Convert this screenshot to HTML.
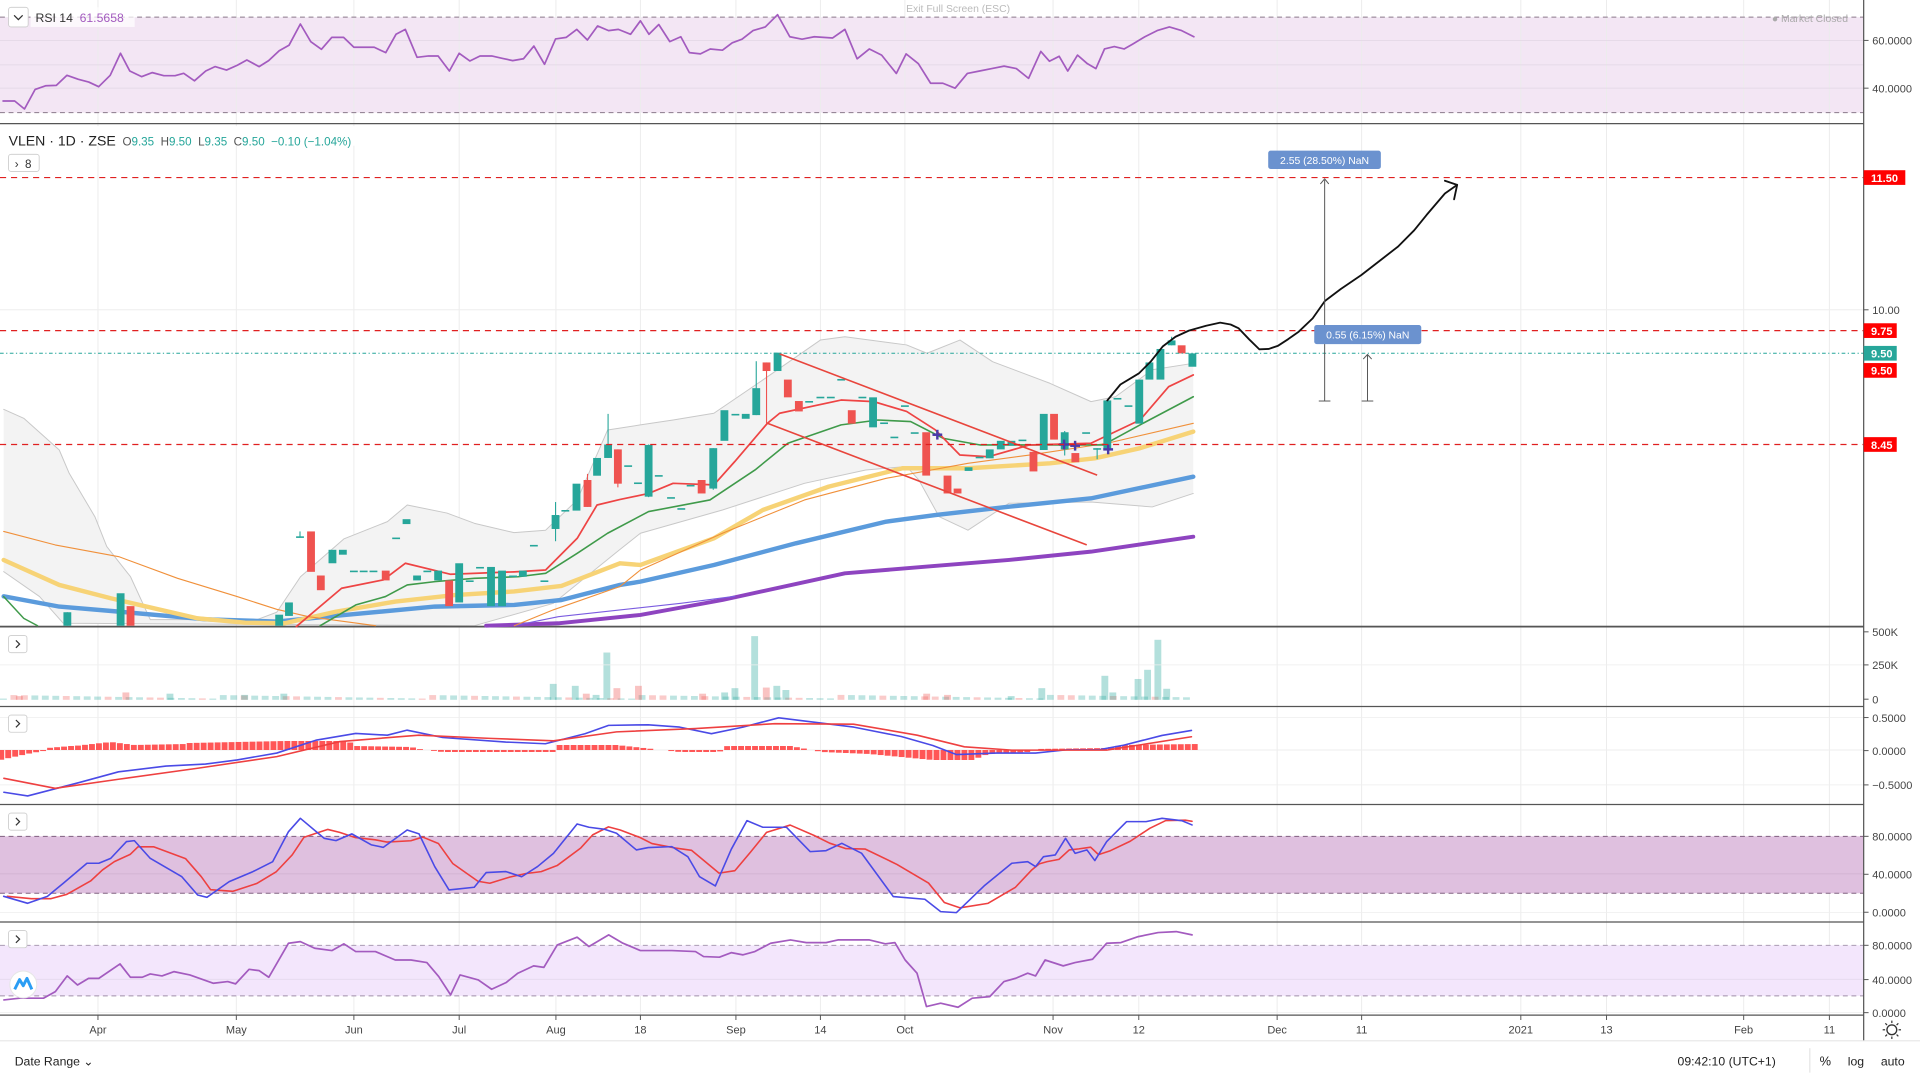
<!DOCTYPE html>
<html><head><meta charset="utf-8"><style>
html,body{margin:0;padding:0;background:#fff;overflow:hidden}
svg{display:block}
text{font-family:"Liberation Sans",sans-serif}
</style></head><body>
<svg id="s" width="1920" height="1080" viewBox="0 0 1568 882" preserveAspectRatio="none" xmlns="http://www.w3.org/2000/svg"></svg>
<script>
var o=[];
function P(a){return a.map(function(p){return p[0]+','+p[1]}).join(' ')}
function line(pts,c,w,extra){o.push('<polyline fill="none" stroke="'+c+'" stroke-width="'+w+'" stroke-linejoin="round" stroke-linecap="round" points="'+P(pts)+'" '+(extra||'')+'/>')}
function rect(x,y,w,h,f,extra){o.push('<rect x="'+x+'" y="'+y+'" width="'+w+'" height="'+h+'" fill="'+f+'" '+(extra||'')+'/>')}
function L(x1,y1,x2,y2,c,w,extra){o.push('<line x1="'+x1+'" y1="'+y1+'" x2="'+x2+'" y2="'+y2+'" stroke="'+c+'" stroke-width="'+w+'" '+(extra||'')+'/>')}
function T(x,y,s,sz,c,extra){o.push('<text x="'+x+'" y="'+y+'" font-size="'+sz+'" fill="'+c+'" '+(extra||'')+'>'+s+'</text>')}
var AX=1522;
// grid verticals
var dates=[[80,'Apr'],[193,'May'],[289,'Jun'],[375,'Jul'],[454,'Aug'],[523,'18'],[601,'Sep'],[670,'14'],[739,'Oct'],[860,'Nov'],[930,'12'],[1043,'Dec'],[1112,'11'],[1242,'2021'],[1312,'13'],[1424,'Feb'],[1494,'11']];
// RSI pane
rect(0,14,AX,78,'#f3e6f4');
dates.forEach(function(d){L(d[0],0,d[0],829,'#ececec',0.8)});
[33,53,72].forEach(function(y){L(0,y,AX,y,'#e2d6e4',0.6)});
L(0,14,AX,14,'#8a7a8a',0.8,'stroke-dasharray="4,3"');L(0,92,AX,92,'#8a7a8a',0.8,'stroke-dasharray="4,3"');
var rsi=[[2.5,82.5],[12,82.5],[20,89],[28.7,73],[37.5,70],[46,69.7],[54.7,61.5],[64,64.8],[72.5,67],[80.6,70.8],[90,61.5],[98.4,43.5],[106,58],[115.6,62.6],[124.4,59.3],[133.8,61.8],[143,61.8],[150,59.9],[158.8,66],[168,58],[175.6,54.4],[185,57.2],[193.8,53.3],[201.6,49],[211.6,54.4],[219.4,49.5],[228,41.4],[236,37],[245.3,19.6],[253.8,34],[262.5,40.3],[271,30.5],[280.6,30.5],[289,38.6],[305.6,38.6],[315,43],[323.4,28],[331,24],[340.6,46.8],[350,45.7],[357.8,45.7],[367,58],[375,43.5],[383.7,49.8],[392,45.7],[401.6,45.7],[410,47.6],[418.7,49.5],[427.5,48],[436,37.6],[444.7,52.5],[453.7,31.8],[462.5,30.5],[471,24],[479.7,32.7],[488,21.2],[497,25],[505,24],[515,28],[523,17],[530,28],[538,20],[547,34],[556,30],[563,43],[572,44],[580,40],[590,41],[598,35],[606,32],[615,25],[625,22],[635,12],[645,30],[655,32],[665,30],[680,31],[690,24],[700,48],[710,40],[720,45],[732,60],[740,44],[750,52],[760,68],[770,68],[780,72],[790,60],[800,58],[810,56],[820,54],[830,56],[840,64],[850,42],[857,50],[865,46],[872,58],[880,45],[888,52],[895,56],[902,40],[910,38],[918,40],[925,36],[935,30],[945,25],[955,22],[965,25],[975,30]];
line(rsi,'#a35bbf',1.4);
rect(7,6,16,16,'#fff','stroke="#ccc" stroke-width="0.7" rx="2"');
o.push('<polyline points="11.5,12.5 15,16 18.5,12.5" fill="none" stroke="#333" stroke-width="1"/>');
rect(25,6,85,16,'rgba(255,255,255,0.7)');
T(29,18,'RSI 14','10','#333');T(65,18,'61.5658','10','#a35bbf');
T(740,10,'Exit Full Screen (ESC)','8.5','#bbb');
T(1447,18,'● Market Closed','8.5','#aaa');
// separators
[101,512,577,657,753].forEach(function(y){L(0,y,1568,y,'#555',1)});
L(0,829,AX,829,'#555',1);
// main pane
L(0,253,AX,253,'#eee',0.8);
// bollinger band
var bu=[[3,334.3],[19.4,341.6],[48.4,367.5],[56.5,386.5],[77.5,422],[87.2,446.4],[106.6,471],[122.7,506],[210,506],[226,500],[245.4,471],[281,440],[316.4,426],[332.6,412.4],[365,419],[387.5,427.4],[419.8,435],[445.6,433],[471.4,408.3],[496.2,351.2],[523,347],[549.7,343],[583,337.5],[623,310.3],[670,277.7],[690,275],[740.4,281.7],[757,288.5],[784,277.7],[810.6,295.4],[857.4,313],[891,328],[911,324],[941,302],[974.5,296.7]];
var bl=[[3,466.8],[32.3,487.2],[51.7,509],[387.5,511],[452,492.7],[506,449],[523,435.5],[590,416.5],[657,394.7],[707,383.8],[740.4,381],[750.4,392],[767,422],[790.5,433],[824,411],[891,410],[941,414],[974.5,403]];
o.push('<polygon fill="#f3f3f3" points="'+P(bu)+' '+P(bl.slice().reverse())+'"/>');
line(bu,'#c8c8c8',0.8);line(bl,'#c8c8c8',0.8);
o.push('<rect x="0" y="511" width="1568" height="1" fill="#555"/>');
// MAs
line([[397,511],[456,509],[523,502.2],[590,490],[690,468.2],[757,462.7],[824,457.3],[891,450.5],[974.5,438.3]],'#8e44c0',3.2);
line([[420,511],[456,503.6],[556,492.7],[600,487]],'#7b5ce0',0.9);
line([[3,487],[48.4,495.4],[97,499.5],[168,505.8],[226,507.6],[284,502],[355,495.4],[420,494],[458.5,490],[506.3,477.7],[523,475],[583,461.4],[650,443.7],[723.7,426],[763.8,420.6],[824,413.8],[891,407],[974.5,389.3]],'#5b9bdc',3.6);
line([[3,457.3],[48.4,477.7],[90.4,488.6],[161.4,505],[200.2,508.5],[232.5,509],[274.5,499.5],[323,491.3],[371.3,486],[419.8,483],[458.5,478.5],[506.3,460],[523,461.4],[583,439.6],[623,416.5],[676.8,397.4],[737,382.4],[790.5,382.4],[857.4,378.4],[894,374.3],[931,366],[974.5,352.5]],'#f7d376',3.6);
line([[3,434],[45,445],[97,454.6],[145,472.3],[193.7,487.2],[226,497.6],[252,503.6],[306.7,511]],'#f0903a',0.9);
line([[420,511],[452,498],[506.3,479],[523,465.5],[590,435.5],[657,408.3],[723.7,390.6],[790.5,378.4],[840.7,371.6],[904.3,362],[974.5,345.7]],'#f0903a',0.9);
line([[3,487.2],[19.4,505],[30.7,511]],'#3f9a4a',1.2);
line([[261.5,511],[290.6,494],[314.8,487.2],[332.6,477.7],[355.2,475],[387.5,472.3],[423,471],[445.6,468.2],[471.4,451.9],[496.2,435.5],[529.7,417.8],[579.8,408.3],[616.6,383.8],[643.4,362],[686.9,347],[717,343],[743.7,344.3],[770.5,358],[800.6,363.4],[857.4,363.4],[901,363.4],[931,347],[974.5,324]],'#3f9a4a',1.3);
line([[242,511.7],[279,480.4],[313,473.6],[331,460],[368,469],[420,467],[445.6,465.5],[471.4,439.6],[487.6,412.4],[506,408],[529.7,403],[549.7,394.7],[583,396],[600,377],[626.7,345.7],[636.7,337.5],[686.9,326.7],[713.6,328],[740.4,336],[763.8,351],[783.9,371.6],[807.3,373],[840.7,363.4],[890.9,362],[931,343],[954.4,315.8],[974.5,306.2]],'#ee4444',1.4);
// candles
var G='#26a69a',R='#ef5350';
var c=[[98.5,484.5,511,G],[106.6,495,511,R],[55,500,511,G,500,511],[228,502,511,G],[236,492,503,G],[245,438,439,G,434,439],[254,434,467,R],[262,470,482,R],[271.5,449,460,G],[280,449,453,G],[289,466,467,G],[297,466,467,G],[305,466,467,G],[315,466,474,R],[323.5,439,440,G],[332,424,428,G],[340.6,470,474,G],[349,466,467,G],[357.8,466,474,G],[366.8,474,495,R],[375,460,492,G],[383.6,474,475,G],[392,463,464,G],[401,463,495,G],[410,466,495,G],[419,470,471,G],[427,466,471,G],[436,445,446,G],[444.6,474,475,G],[453.7,420.6,432,G,410,442],[461.7,416.5,417.5,G],[470.8,395,417,G],[479.8,392,414,R,387,414],[487.6,374,388.5,G],[496.6,363,374,G,338,374],[504.6,367,395,R,367,398],[513,380,381,G],[521,394,395,G],[529.7,363.4,405.6,G,363,406],[538,388,389,G],[548,406,407,G],[556.4,415,416,G],[564,396,397,G],[573,392,403,R],[582.5,366,399,G,366,400],[591.6,335,360,G],[600.6,338,339,G],[609,338,342,G],[617.6,317,339,G,295,339],[626,296,303,R,296,346],[635,288,303,G],[643.4,310,324.5,R],[652.4,327.5,336,R],[660.8,327.5,328.5,G],[670,324,325,G],[678.5,324,325,G],[687,309.5,310.5,G],[695.6,335,346,R],[704.3,324,325,G],[713,324.5,349,G],[722,345,346,G],[730.4,356.6,357.6,G],[739,331,332,G],[747,353,354,G],[756.4,353,388.4,R],[765.5,354,356,'#5b3fb0'],[773.8,388.4,403,R],[782,399,403,R],[791,381.6,384.6,G],[800,373,374,G],[808.3,367,374.3,G],[817.3,360,367,G],[826,360,364,G],[835,359,360,G],[844,369,385,R],[852.4,338,367.5,G],[860.8,338,359,R],[869.5,353,367,G,352,372],[878.2,370,377.5,R],[887,353,354,G],[896,366,367,G,366,375],[904.3,327,367,G],[912.6,325,326,G],[921.6,331,332,G],[930.4,310,346,G],[938.7,296,310,G],[947.7,285,310,G],[956.8,278,282,G,275,282],[965,282,288.6,R],[973.8,288.6,299.5,G]];
c.forEach(function(k){var x=k[0],t=k[1],b=k[2],col=k[3];
 if(k.length>4)L(x,k[4],x,k[5],col,0.9);
 var h=Math.max(b-t,1.3);rect(x-3.2,t,6.4,h,col);});
// crosses
[[765.5,355],[869,363],[878,364],[905,367]].forEach(function(p){L(p[0]-4,p[1],p[0]+4,p[1],'#4a3aa8',2);L(p[0],p[1]-4,p[0],p[1]+4,'#4a3aa8',2)});
// channel
L(636.7,289,896,388,'#e8453c',1.3);L(626.7,345.7,887.5,445,'#e8453c',1.3);
// horizontal levels
[145,270,363].forEach(function(y){L(0,y,AX,y,'#e02020',1,'stroke-dasharray="5,4"')});
L(0,288.5,AX,288.5,'#26a69a',0.8,'stroke-dasharray="3,2,1,2"');
// projection drawing
line([[904.3,327],[915,314],[930,305],[940,295],[949.5,283],[960,275],[970.9,270],[985,266],[996.5,263.5],[1005,265],[1011.4,268],[1020,277],[1028.5,285.3],[1036,285],[1043.5,282.5],[1052,277],[1060.6,270.9],[1072,260],[1082,245.8],[1095,236],[1111.8,224.6],[1128,212],[1141.7,201.4],[1155,188],[1165,175.6],[1180,158],[1190,151]],'#111',1.5);
line([[1180,147.6],[1190,151],[1187.5,162.8]],'#111',1.5);
// measures
L(1081.8,147,1081.8,327.5,'#555',0.8);L(1077,327.5,1086.5,327.5,'#555',0.8);
line([[1078.5,150],[1081.8,146],[1085,150]],'#555',0.8);
L(1116.8,289.5,1116.8,327.5,'#555',0.8);L(1112,327.5,1121.5,327.5,'#555',0.8);
line([[1113.5,293],[1116.8,289.5],[1120,293]],'#555',0.8);
rect(1035.7,123,92,15,'#6b92cf','rx="2"');T(1081.7,134,'2.55 (28.50%) NaN','8.5','#fff','text-anchor="middle"');
rect(1073.3,265.4,87.4,15.6,'#6b92cf','rx="2"');T(1117,276.5,'0.55 (6.15%) NaN','8.5','#fff','text-anchor="middle"');
// header
rect(0,103,310,16,'#fff');
T(7,119,'VLEN · 1D · ZSE','11.5','#222');
T(100,119,'<tspan fill="#555">O</tspan>9.35  <tspan fill="#555">H</tspan>9.50  <tspan fill="#555">L</tspan>9.35  <tspan fill="#555">C</tspan>9.50  −0.10 (−1.04%)','9.5','#26a69a','xml:space="preserve"');
rect(7,126,25,14,'#fff','stroke="#ccc" stroke-width="0.7" rx="2"');T(12,137,'›  8','9.5','#333','xml:space="preserve"');
// volume
var vs={};[[495.8,38.6,G],[616.5,52,G],[945.8,49,G],[937.4,24.5,G],[929.6,17,G],[902.5,19.6,G],[851,9.5,G],[452,13,G],[470,11.4,G],[504,9.5,R],[521.6,11.4,R],[479,5,R],[487,4,G],[626,10,R],[634.6,11.4,G],[642,8,G],[909,6,G],[953,9,G],[592,6,G],[600.4,9.5,G],[574,5,R],[757,5,R],[774,4,R],[232,5,G],[103,6,R],[139,5,G],[200,4,G],[16,3,R],[826,3,G]].forEach(function(v){vs[Math.round(v[0])]=v});
for(var x=3;x<=976;x+=8.55){var h=1+((x*7)%3),col=((x*13)%5<1.5)?R:G;rect(x-3,571.5-h,5.6,h,col,'opacity="0.3"')}
Object.keys(vs).forEach(function(k){var v=vs[k];rect(v[0]-3,571.5-v[1],5.6,v[1],v[2],'opacity="0.35"')});
[543].forEach(function(y){L(0,y,AX,y,'#eee',0.6)});
// MACD
L(0,612.5,AX,612.5,'#eee',0.8);L(0,641,AX,641,'#eee',0.6);L(0,586,AX,586,'#eee',0.6);
var hist=[[0,-10],[40,-3],[55,-1],[60,2],[90,4],[94,4],[140,8],[170,5],[235,6],[240,7],[360,9],[440,9],[450,4],[520,3],[530,1],[560,-2],[700,-2],[705,5],[780,5],[860,-2],[910,-2],[920,4],[1000,4],[1040,-2],[1100,-4],[1180,-10],[1230,-10],[1250,-4],[1300,-2],[1310,1],[1400,2],[1420,5],[1515,6]];
function hv(zx){for(var i=1;i<hist.length;i++){if(zx<=hist[i][0]){var a=hist[i-1],b=hist[i];return a[1]+(b[1]-a[1])*(zx-a[0])/(b[0]-a[0]||1)}}return 0}
for(var x=1;x<=976;x+=5.7){var v=hv(x*1.549)/1.2245;if(Math.abs(v)<0.5)continue;rect(x-2.4,v>0?612.5-v:612.5,4.8,Math.abs(v),'#f44','opacity="0.9"')}
line([[3.2,647],[22.6,650],[64.6,639.1],[96.8,630.3],[135.6,625.6],[167.8,624],[193.7,620.6],[226,615],[258,604.5],[290.5,599],[316.3,600.4],[332.5,596.3],[361.5,602.3],[413,606],[445.4,607.4],[477.7,599.2],[497,592.4],[529.4,591.9],[555,593.8],[581,599.2],[606.8,593.8],[635.9,586.2],[671.4,590.6],[697.2,593.8],[736,601.5],[761.8,608.8],[781,616.2],[813.4,615],[845.7,615],[871.5,612.3],[897.4,612.3],[916.7,608.8],[949,600.6],[973,596.5]],'#4a4ae6',1.3);
line([[3.2,635.6],[45,643.8],[96.8,636.4],[161.4,627.4],[226,617.9],[277.6,605.6],[342,600.4],[400,603],[452,605],[503.5,597.7],[568,595],[632.7,591],[697,591.4],[749,600.4],[787.6,609.9],[826.3,612.6],[903.8,612.6],[973,601.7]],'#ee4040',1.3);
// Stochastic
rect(0,683,AX,46.5,'#dfc0df');
L(0,683,AX,683,'#806080',0.8,'stroke-dasharray="4,3"');L(0,729.5,AX,729.5,'#806080',0.8,'stroke-dasharray="4,3"');
L(0,713.7,AX,713.7,'#cfb0cf',0.6);L(0,745.3,AX,745.3,'#eee',0.6);
var sb=[[3,732],[22.6,737.7],[38.7,732],[51.6,721.4],[71,705],[80.7,705],[90.4,701],[103.3,687.3],[109.7,686.5],[122.7,701],[148.5,716],[161.4,730.9],[169,732.8],[187.2,720],[206.6,711.8],[222.7,703.7],[235.6,679.2],[245.3,668.3],[264.7,684.6],[274.4,686.5],[287.3,681],[303.4,690],[313,692],[332.5,677.8],[342.2,681],[355,707.7],[366.7,726.8],[387.3,724.6],[397,712.6],[413.2,711.8],[426,716],[439,707.7],[452,696.9],[471.3,672.9],[481,675.6],[493.9,677.3],[503.5,680.5],[519.7,694.1],[529.4,692.2],[548.7,691.4],[561.7,699.6],[571.3,716],[584.2,723.5],[597.2,693.6],[610,670.2],[623,675.6],[642.3,675.6],[661.7,695.5],[674.6,694.7],[687.5,688.7],[703.7,696.9],[729.5,732.2],[755.3,734.4],[768.2,744.5],[781.1,745.3],[803.7,723.5],[826.3,705],[839.3,703.7],[845.7,707.7],[852.2,699.6],[861.8,698.2],[870.2,684.6],[878,696.9],[887.7,694.1],[894.1,702.8],[903.8,687.3],[920,671],[936,671],[949,668.3],[965.1,670.2],[973.5,673.7]];
var sr=[];for(var i=0;i<sb.length;i++){var f=function(j){return sb[Math.max(0,j)][1]};sr.push([sb[i][0]+3,(f(i)+f(i-1)+f(i-2))/3])}
sr[sr.length-1][0]=973.5;
line(sr,'#ee4040',1.3);line(sb,'#4a4ae6',1.3);
// bottom osc
rect(0,772,AX,41.3,'#f3e6fc');
L(0,772,AX,772,'#a090a8',0.8,'stroke-dasharray="4,3"');L(0,813.3,AX,813.3,'#a090a8',0.8,'stroke-dasharray="4,3"');
L(0,799.7,AX,799.7,'#e2d6ea',0.6);L(0,827,AX,827,'#eee',0.6);
line([[3.2,816.6],[16,815.2],[35.5,815.2],[45.2,809.8],[54.9,797],[63.3,804.4],[72.3,799],[80.7,799],[98,787.2],[106.5,798.1],[116.2,798.1],[122.7,795.4],[132.3,797],[142,793.5],[155,796.2],[174.3,803],[186,801.6],[192.4,803.5],[203.4,791.6],[211.7,792.7],[219.5,798.1],[235.6,770.3],[245.3,769],[257,774.4],[271,776.3],[280.8,770.8],[290.5,777.1],[306.6,777.1],[322.8,784],[335.7,784],[348.6,786.1],[358.3,797.5],[368,812.5],[375.7,796.2],[390.6,800.3],[401.5,807.9],[413.2,802.5],[422.9,794.8],[435.8,788.8],[444.2,790],[455.1,771.7],[471.3,765.4],[481,773],[497.1,763.5],[508.7,770.3],[523,776.3],[548.7,776.3],[568,777.1],[574.6,781.2],[587.5,781.7],[597.2,778],[606.8,779.8],[616.5,777.1],[629.4,770.3],[645.6,767.6],[658.5,769.8],[674.6,769.8],[684.3,767.6],[710,767.6],[723,770.8],[730.8,769.8],[739.2,784],[748.9,794.8],[756.6,822],[768.2,819.3],[782.4,822.6],[794,815.2],[808.3,813.9],[819.9,801.6],[829.6,798.9],[839.3,794.8],[845.7,797],[853.5,784],[868.3,788.8],[878,786.1],[892.2,783.4],[903.8,770.3],[915.4,769.8],[929.6,764.9],[945.8,761.6],[960.6,760.8],[973.5,763.5]],'#a35bbf',1.4);
// pane buttons
[519,584,664,760].forEach(function(y){rect(7,y,15,14,'#fff','stroke="#ccc" stroke-width="0.7" rx="2"');o.push('<polyline points="13,'+(y+4)+' 16,'+(y+7)+' 13,'+(y+10)+'" fill="none" stroke="#333" stroke-width="1"/>')});
o.push('<circle cx="19" cy="804" r="11" fill="#fff" stroke="#e6e6e6" stroke-width="0.8"/>');
o.push('<polyline points="12,808 16,800 19,805 22,799 26,808" fill="none" stroke="#2a9df4" stroke-width="2.4" stroke-linejoin="round"/>');
// right axis
rect(AX,0,46,850,'#fff');
L(AX,0,AX,850,'#555',1);
function al(y,s){L(AX,y,AX+4,y,'#555',0.8);T(AX+7,y+3.5,s,'9','#444')}
al(33,'60.0000');al(72,'40.0000');al(253,'10.00');al(516,'500K');al(543,'250K');al(571,'0');al(586,'0.5000');al(613,'0.0000');al(641,'−0.5000');al(683,'80.0000');al(714,'40.0000');al(745,'0.0000');al(772,'80.0000');al(800,'40.0000');al(827,'0.0000');
[[145,'11.50','#f00'],[270,'9.75','#f00'],[288.5,'9.50','#26a69a'],[302.5,'9.50','#f00'],[363,'8.45','#f00']].forEach(function(b){var w=b[1].length>4?34:27;rect(AX,b[0]-6,w,12,b[2]);T(AX+6,b[0]+3.5,b[1],'9','#fff','font-weight="bold"')});
// date axis
dates.forEach(function(d){L(d[0],829,d[0],833,'#555',0.8);T(d[0],844,d[1],'9','#444','text-anchor="middle"')});
L(0,850,1568,850,'#e6e6e6',1);
o.push('<circle cx="1545" cy="841" r="4" fill="none" stroke="#333" stroke-width="1.1"/>');
for(var a=0;a<8;a++){var r1=5.5,r2=7.5,an=a*Math.PI/4;L(1545+r1*Math.cos(an),841+r1*Math.sin(an),1545+r2*Math.cos(an),841+r2*Math.sin(an),'#333',1)}
T(12,870,'Date Range ⌄','10','#222');
L(1478,856,1478,876,'#e6e6e6',1);
T(1370,870,'09:42:10 (UTC+1)','10','#222');T(1486,870,'%','10.5','#222');T(1509,870,'log','10','#222');T(1536,870,'auto','10','#222');
document.getElementById('s').innerHTML=o.join('');
</script>
</body></html>
